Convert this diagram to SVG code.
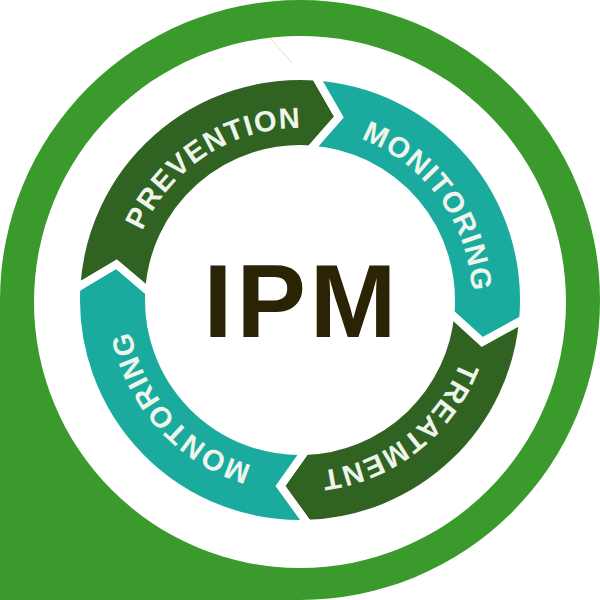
<svg xmlns="http://www.w3.org/2000/svg" xmlns:xlink="http://www.w3.org/1999/xlink" width="600" height="600" viewBox="0 0 600 600">
  <style>
    .dark { fill: #306222; stroke: #ffffff; stroke-width: 8; stroke-linejoin: miter; }
    .teal { fill: #1aab9e; stroke: #ffffff; stroke-width: 8; stroke-linejoin: miter; }
    .lbl { font-family: "Liberation Sans", Arial, sans-serif; font-weight: bold; font-size: 29px; fill: #eef6ec; letter-spacing: 1.2px; }
    .title { font-family: "Liberation Sans", Arial, sans-serif; font-weight: bold; font-size: 104px; fill: #2b2306; letter-spacing: 4px; }
  </style>
  <defs>
    <path id="ring" d="M472,300 A172,172 0 1 1 128,300 A172,172 0 1 1 472,300"/>
  </defs>
  <rect width="600" height="600" fill="#ffffff"/>
  <g id="badge">
    <path d="M300,0 A300,300 0 0 1 600,300 A300,300 0 0 1 300,600 L0,600 L0,300 A300,300 0 0 1 300,0 Z" fill="#3a9a2b"/>
    <circle cx="300" cy="302" r="266" fill="#ffffff"/>
    <line x1="270" y1="38" x2="292" y2="63" stroke="#d6ebb0" stroke-width="1"/>
  </g>
  <g id="connectors">
    <g id="prevention">
      <path class="dark" d="M76.31,288.28 A224,224 0 0 1 315.63,76.55 L338.88,117.09 L310.53,149.37 A151,151 0 0 0 149.21,292.10 L116.44,264.32 Z"/>
      <text class="lbl" text-anchor="middle"><textPath xlink:href="#ring" href="#ring" startOffset="711.5">PREVENTION</textPath></text>
    </g>
    <g id="monitoring">
      <path class="teal" d="M315.63,76.55 A224,224 0 0 1 523.15,319.52 L482.21,342.07 L450.42,313.16 A151,151 0 0 0 310.53,149.37 L338.88,117.09 Z"/>
      <text class="lbl" text-anchor="middle"><textPath xlink:href="#ring" href="#ring" startOffset="972.6">MONITORING</textPath></text>
    </g>
    <g id="treatment">
      <path class="dark" d="M523.15,319.52 A224,224 0 0 1 307.82,523.86 L280.45,485.98 L305.27,450.91 A151,151 0 0 0 450.42,313.16 L482.21,342.07 Z"/>
      <text class="lbl" text-anchor="middle"><textPath xlink:href="#ring" href="#ring" startOffset="156.1">TREATMENT</textPath></text>
    </g>
    <g id="montoring">
      <path class="teal" d="M307.82,523.86 A224,224 0 0 1 76.31,288.28 L116.44,264.32 L149.21,292.10 A151,151 0 0 0 305.27,450.91 L280.45,485.98 Z"/>
      <text class="lbl" text-anchor="middle"><textPath xlink:href="#ring" href="#ring" startOffset="414.3">MONTORING</textPath></text>
    </g>
  </g>
  <g id="center">
    <text class="title" x="302" y="337" text-anchor="middle">IPM</text>
  </g>
</svg>
